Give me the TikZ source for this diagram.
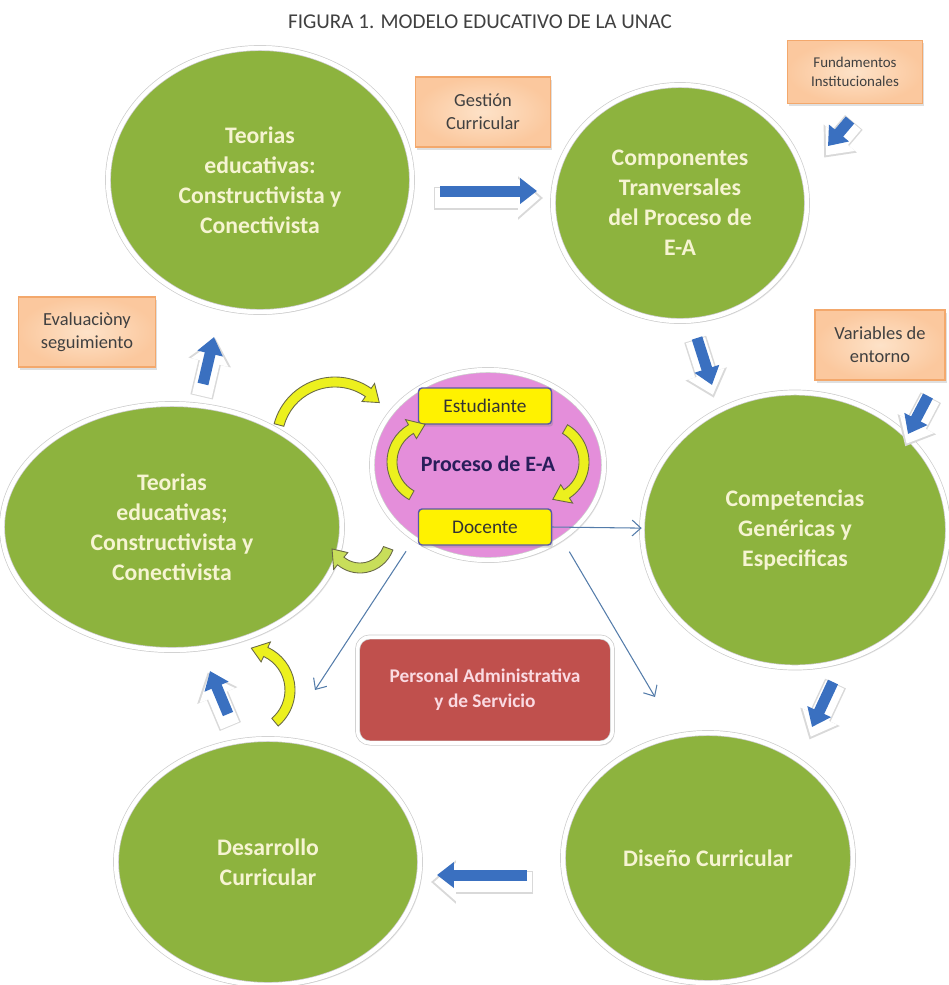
\documentclass[tikz,border=0pt]{standalone}
\usepackage{fontspec}
\setmainfont{Carlito}
\usepackage{tikz}
\usetikzlibrary{shapes.geometric, arrows.meta, shadows}
\definecolor{leaf}{RGB}{141,179,62}
\definecolor{cream}{RGB}{246,244,210}
\definecolor{orchid}{RGB}{228,142,218}
\definecolor{peach}{RGB}{251,200,158}
\definecolor{peachlight}{RGB}{253,226,200}
\definecolor{peachline}{RGB}{243,168,108}
\definecolor{brick}{RGB}{192,80,77}
\definecolor{blush}{RGB}{250,218,226}
\definecolor{navy}{RGB}{40,30,90}
\definecolor{flowblue}{RGB}{58,112,192}
\definecolor{linkblue}{RGB}{84,124,170}
\definecolor{arcyellow}{RGB}{236,240,30}
\definecolor{arclime}{RGB}{200,222,90}
\definecolor{arcline}{RGB}{105,105,70}
\tikzstyle{circ} = [ellipse, inner sep=0pt, fill=leaf, draw=gray!40, double=white, double distance=2.5pt, drop shadow={opacity=0.2, shadow xshift=1.5pt, shadow yshift=-1.5pt}, text=cream, align=center, font=\bfseries\fontsize{13.5}{17}\selectfont]
\tikzstyle{core} = [ellipse, inner sep=0pt, fill=orchid, draw=gray!40, double=white, double distance=2.5pt, drop shadow={opacity=0.2, shadow xshift=1.5pt, shadow yshift=-1.5pt}, minimum width=4.64cm, minimum height=3.8cm]
\tikzstyle{note} = [rectangle, inner color=peachlight, outer color=peach, draw=peachline, line width=0.8pt, drop shadow={opacity=0.25, shadow xshift=1pt, shadow yshift=-1.5pt}, text=black!75, align=center, minimum width=2.7cm, minimum height=1.4cm, font=\fontsize{10.5}{13}\selectfont]
\tikzstyle{role} = [rectangle, rounded corners=2pt, fill=yellow, draw=gray!70!blue, line width=0.8pt, drop shadow={opacity=0.3, shadow xshift=1pt, shadow yshift=-1.5pt}, minimum width=2.66cm, minimum height=0.72cm, text=black!80, font=\fontsize{11}{12}\selectfont]
\tikzstyle{staff} = [rectangle, rounded corners=7pt, fill=brick, draw=gray!40, double=white, double distance=2pt, drop shadow={opacity=0.25, shadow xshift=1pt, shadow yshift=-1.5pt}, minimum width=5.1cm, minimum height=2.12cm, text=blush, align=center, font=\bfseries\fontsize{11}{14}\selectfont]
\tikzstyle{flow} = [line width=0.22cm, draw=flowblue, -{Triangle[length=0.34cm, width=0.5cm]}]
\tikzstyle{flowrim} = [line width=0.46cm, draw=gray!30, -{Triangle[length=0.5cm, width=0.84cm]}, shorten <=-0.12cm, shorten >=-0.12cm, transform canvas={yshift=-0.14cm}]
\tikzstyle{flowbody} = [line width=0.4cm, draw=white, -{Triangle[length=0.44cm, width=0.74cm]}, shorten <=-0.1cm, shorten >=-0.06cm, transform canvas={yshift=-0.14cm}]
\tikzstyle{link} = [draw=linkblue, line width=0.6pt, -{Straight Barb[length=5pt, width=9pt]}]
\tikzstyle{band} = [draw=arcline, line width=0.5pt]
\newcommand{\bentarrow}[6][arcyellow]{%
  \pgfmathsetmacro{\tipang}{#6+sign(#6-#5)*15/#4*57.3}
  \begin{scope}[shift={(#2,#3)}]
    \filldraw[band, fill=#1] ({#5}:{#4+5}) arc[start angle=#5, end angle=#6, radius={#4+5}]
      -- ({#6}:{#4+11}) -- ({\tipang}:{#4}) -- ({#6}:{#4-11}) -- ({#6}:{#4-5})
      arc[start angle=#6, end angle=#5, radius={#4-5}] -- cycle;
  \end{scope}}

\begin{document}
\begin{tikzpicture}[x=0.02cm, y=-0.02cm]
\useasboundingbox (0,0) rectangle (948,985);
\node(title) at (480,22)[text=black!75, font=\fontsize{12}{14}\selectfont]{FIGURA 1. MODELO EDUCATIVO DE LA UNAC};
\node(teoA)[circ, minimum width=6.08cm, minimum height=5.28cm] at (260,180){Teorias\\educativas:\\Constructivista y\\Conectivista};
\node(comp)[circ, minimum width=5.08cm, minimum height=4.72cm] at (680,203){Componentes\\Tranversales\\del Proceso de\\E-A};
\node(teoB)[circ, minimum width=6.8cm, minimum height=4.92cm] at (172,527){Teorias\\educativas;\\Constructivista y\\Conectivista};
\node(compG)[circ, minimum width=6.12cm, minimum height=5.5cm] at (795,530){Competencias\\Genéricas y\\Especificas};
\node(desa)[circ, minimum width=6.08cm, minimum height=4.92cm] at (268,862){Desarrollo\\Curricular};
\node(dise)[circ, minimum width=5.8cm, minimum height=5cm] at (708,858){Diseño Curricular};
\node(pink)[core] at (488,465){};
\node(proc) at (488,464)[text=navy, font=\bfseries\fontsize{12.5}{14}\selectfont]{Proceso de E-A};
\node(est)[role] at (485,406){Estudiante};
\node(doc)[role] at (485,527){Docente};
\node(adm)[staff] at (485,690){Personal Administrativa\\y de Servicio};
\node(gest)[note] at (483,112){Gestión\\Curricular};
\node(fund)[note, minimum height=1.26cm, font=\fontsize{8.5}{10.5}\selectfont] at (855,72){Fundamentos\\Institucionales};
\node(eval)[note, minimum width=2.74cm] at (87,332){Evaluaciòny\\seguimiento};
\node(vars)[note, minimum width=2.6cm] at (880,345){Variables de\\entorno};
\coordinate(s1) at (440,191); \coordinate(e1) at (537,191);
\coordinate(s2) at (697,338); \coordinate(e2) at (712,385);
\coordinate(s3) at (850,120); \coordinate(e3) at (828,146);
\coordinate(s4) at (928,396); \coordinate(e4) at (908,434);
\coordinate(s5) at (833,682); \coordinate(e5) at (812,727);
\coordinate(s6) at (527,875); \coordinate(e6) at (437,875);
\coordinate(s7) at (228,714); \coordinate(e7) at (210,671);
\coordinate(s8) at (203,384); \coordinate(e8) at (214,337);
\foreach \i in {1,...,8}{
  \draw[flowrim](s\i) -- (e\i);
  \draw[flowbody](s\i) -- (e\i);
  \draw[flow](s\i) -- (e\i);
}
\bentarrow{335}{440}{58}{-165}{-55}
\bentarrow[arclime]{360}{538}{30}{20}{130}
\bentarrow{248}{690}{42}{50}{-65}
\bentarrow{430}{462}{38}{119}{240}
\bentarrow{546}{462}{38}{-60}{57}
\coordinate(adm1) at (315,690);
\coordinate(adm2) at (655,697);
\draw[link](doc.east) -- (compG);
\draw[link, shorten <=0.3cm](pink.225) -- (adm1);
\draw[link, shorten <=0.3cm](pink.-45) -- (adm2);
\end{tikzpicture}
\end{document}
